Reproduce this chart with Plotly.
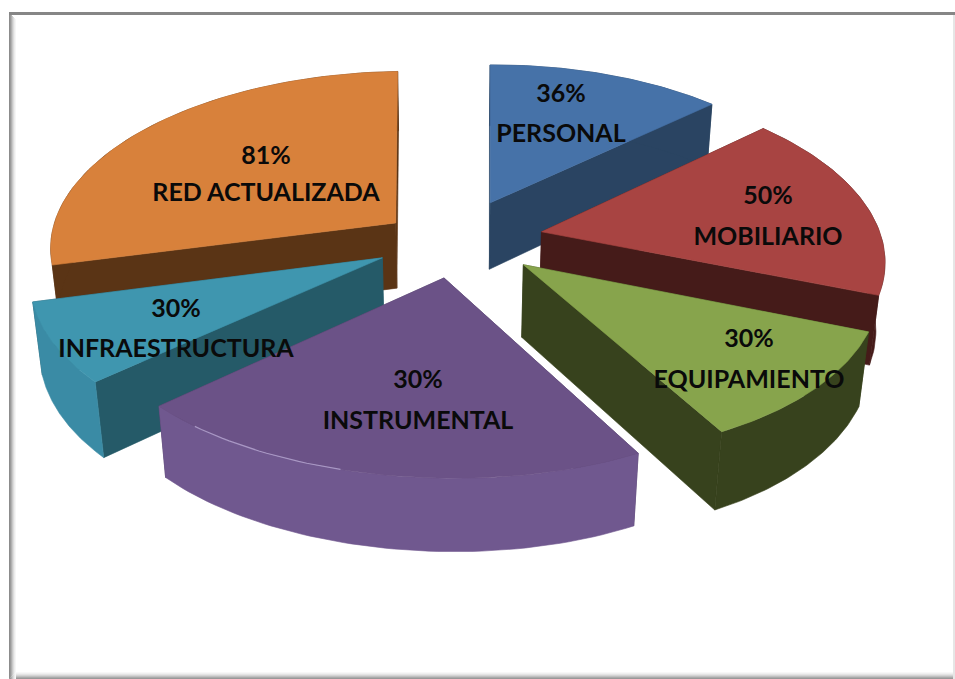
import numpy as np
import plotly.graph_objects as go

# ---- data ----
categories = ["PERSONAL", "MOBILIARIO", "EQUIPAMIENTO", "INSTRUMENTAL", "INFRAESTRUCTURA", "RED ACTUALIZADA"]
percent_labels = ["36%", "50%", "30%", "30%", "30%", "81%"]
# drawn share of each slice (degrees of the circle, as measured on the picture)
slice_degrees = [47, 63, 39, 79, 27, 103]

# ---- styles and geometry ----
top_colors = ["#4672A8", "#A84442", "#87A44C", "#6B5287", "#3F96AF", "#D8813B"]
radial_wall = ["#2A4462", "#451B19", "#37421D", "#4A3A60", "#255A68", "#5A3415"]
arc_wall = ["#2A4462", "#451B19", "#37421D", "#70588F", "#3A8BA5", "#5A3415"]
explode_dir = [32, 86, 129, 184, 236, 294]
explode_dist = [78, 92, 92, 83, 80, 60]
radius_start = [333, 341, 337, 328, 329, 343]
radius_end = [342, 338, 321, 328, 338, 357]
radius_sag = [0, 0, 0, 10, 0, 0]
wall_height = [69, 69, 73, 67, 72, 67]
draw_order = [0, 5, 1, 4, 2, 3]
label_x = [561, 768, 749, 418, 176, 266]
label_y_pct = [96, 198, 341, 382, 311, 158]
label_y_name = [136, 239, 382, 423, 351, 195]

CX, CY, K, D = 450, 235, 0.5, 2300
START = 1


def project(X, Y, z=0.0):
    s = D / (D - Y + 0.7 * z)
    return CX + X * s, CY + (K * Y + z) * s


def polar(a):
    a = np.radians(a)
    return np.sin(a), -np.cos(a)


def poly(px, py, color):
    return go.Scatter(x=list(px) + [px[0]], y=list(py) + [py[0]], mode="lines", fill="toself",
                      fillcolor=color, line=dict(color=color, width=0.6),
                      hoverinfo="skip", showlegend=False)


fig = go.Figure()
edges = np.concatenate([[START], START + np.cumsum(slice_degrees)])
for i in draw_order:
    a0, a1 = edges[i], edges[i + 1]
    H = wall_height[i]
    ex, ey = polar(explode_dir[i])
    AX, AY = ex * explode_dist[i], ey * explode_dist[i]
    th = np.linspace(a0, a1, 60)
    ux, uy = polar(th)
    t = np.linspace(0, 1, 60)
    rad = radius_start[i] + (radius_end[i] - radius_start[i]) * t - radius_sag[i] * np.sin(np.pi * t)
    X = AX + rad * ux
    Y = AY + rad * uy
    # radial walls, far one first
    ends = sorted([(X[0], Y[0]), (X[-1], Y[-1])], key=lambda p: p[1])
    for ox, oy in ends:
        p = [project(AX, AY), project(ox, oy), project(ox, oy, H), project(AX, AY, H)]
        fig.add_trace(poly([q[0] for q in p], [q[1] for q in p], radial_wall[i]))
    # outer arc wall
    tx, ty = project(X, Y)
    bx, by = project(X, Y, H)
    fig.add_trace(poly(np.r_[tx, bx[::-1]], np.r_[ty, by[::-1]], arc_wall[i]))
    # top
    ax, ay = project(AX, AY)
    fig.add_trace(poly(np.r_[ax, tx], np.r_[ay, ty], top_colors[i]))
    if categories[i] == "INSTRUMENTAL":
        m = (th > 195) & (th < 222)
        fig.add_trace(go.Scatter(x=tx[m], y=ty[m], mode="lines", line=dict(color="#A897C4", width=1.2),
                                 hoverinfo="skip", showlegend=False))

fig.add_trace(go.Scatter(x=label_x + label_x, y=label_y_pct + label_y_name, mode="text",
                         text=[f"<b>{t}</b>" for t in percent_labels + categories],
                         textposition="middle center",
                         textfont=dict(family="Lato", size=25, color="#0a0a0a"),
                         hoverinfo="skip", showlegend=False))

# frame with soft inner shadow
shapes = []
for n, g in enumerate(["#8c8c8c", "#9a9a9a", "#b0b0b0", "#c8c8c8", "#dcdcdc", "#ececec", "#f6f6f6"]):
    shapes.append(dict(type="rect", xref="x", yref="y", x0=9 + n, x1=10 + n, y0=13 + n, y1=679,
                       fillcolor=g, line_width=0, layer="below"))
    shapes.append(dict(type="rect", xref="x", yref="y", x0=9 + n, x1=955, y0=679 - n, y1=678 - n,
                       fillcolor=["#999999", "#aaaaaa", "#c0c0c0", "#d4d4d4", "#e4e4e4", "#f0f0f0", "#f8f8f8"][n],
                       line_width=0, layer="below"))
shapes.append(dict(type="rect", xref="x", yref="y", x0=9, x1=955, y0=12, y1=15,
                   fillcolor="#868686", line_width=0, layer="below"))
shapes.append(dict(type="rect", xref="x", yref="y", x0=953, x1=955, y0=15, y1=679,
                   fillcolor="#e6e6e6", line_width=0, layer="below"))

fig.update_layout(width=955, height=679, margin=dict(l=0, r=0, t=0, b=0), autosize=False,
                  paper_bgcolor="white", plot_bgcolor="white", shapes=shapes,
                  xaxis=dict(range=[0, 955], visible=False, fixedrange=True),
                  yaxis=dict(range=[679, 0], visible=False, fixedrange=True))
fig.write_html("out.html", config=dict(displayModeBar=False),
               post_script="document.body.style.margin='0';document.documentElement.style.overflow='hidden';"
                           "document.body.style.overflow='hidden';"
                           "var d=document.querySelector('.plotly-graph-div');d.style.width='955px';d.style.height='679px';")
